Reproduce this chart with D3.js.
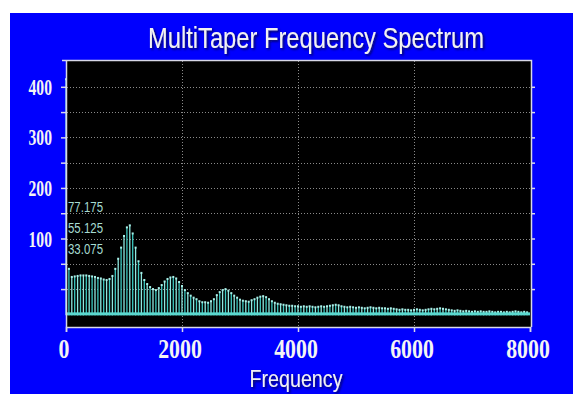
<!DOCTYPE html>
<html>
<head>
<meta charset="utf-8">
<script src="https://cdn.jsdelivr.net/npm/d3@7"></script>
<style>
  body { margin: 0; background: #fff; }
  svg { display: block; }
</style>
</head>
<body>
<script>
// spectrum bins, 50 Hz apart, starting at 0 Hz
var binWidth = 50;
var lowBand = [415, 40, 24, 25, 26, 27, 27, 27, 26, 25, 24, 22, 21, 19, 18, 20,
  26, 40, 60, 82, 105, 122, 126, 110, 82, 55, 32, 18, 10, 4, 0, -2,
  2, 8, 15, 20, 23, 24, 21, 14, 6, -2, -8, -13, -17, -20, -24, -26];
var midBand = [-26, -27, -24, -20, -12, -6, -2, 0, -3, -8, -13, -17, -21, -23, -24, -25,
  -22, -20, -17, -15, -14, -16, -20, -24, -27, -29, -30, -31, -32, -33, -33, -34,
  -34, -35, -34, -35, -34, -35, -36, -35, -34, -35, -34, -33, -32, -31, -32, -34];
var highBand = [-35, -36, -35, -36, -37, -36, -37, -38, -37, -36, -37, -38, -37, -38, -38, -39,
  -38, -39, -40, -41, -40, -41, -41, -42, -41, -40, -41, -42, -41, -40, -39, -40,
  -39, -38, -39, -40, -41, -42, -43, -42, -43, -44, -43, -44, -45, -44, -45, -44,
  -45, -45, -44, -45, -46, -45, -45, -46, -45, -46, -45, -44, -45, -46, -45, -46];
var spectrum = lowBand.concat(midBand, highBand);

var yTickLabels = [100, 200, 300, 400];
var xTickLabels = [0, 2000, 4000, 6000, 8000];
var levelLabels = ['77.175', '55.125', '33.075'];

var W = 573, H = 394;
var svg = d3.select('body').append('svg').attr('width', W).attr('height', H);

// soft dark shadow for the white captions
svg.append('defs').append('filter').attr('id', 'shadow')
  .attr('x', '-10%').attr('y', '-30%').attr('width', '120%').attr('height', '160%')
  .append('feDropShadow')
  .attr('dx', 1.5).attr('dy', 1.5).attr('stdDeviation', 1)
  .attr('flood-color', '#101040').attr('flood-opacity', 0.9);

// white margin, blue panel
svg.append('rect').attr('x', 10).attr('y', 13).attr('width', W - 10).attr('height', H - 13).attr('fill', '#0000fe');

var x = d3.scaleLinear().domain([0, 8000]).range([66, 530]);
var y = d3.scaleLinear().domain([-75, 453]).range([327, 60]);
var base = -52;

svg.append('rect')
  .attr('x', 66).attr('y', 60)
  .attr('width', 465).attr('height', 267)
  .attr('fill', '#000');

// dotted grid
var gridVals = d3.range(0, 401, 50);
svg.append('g').selectAll('line').data(gridVals).enter().append('line')
  .attr('x1', 67).attr('x2', 530)
  .attr('y1', function (d) { return Math.round(y(d)) + 0.5; })
  .attr('y2', function (d) { return Math.round(y(d)) + 0.5; })
  .attr('stroke', '#8a8a8a').attr('stroke-width', 1).attr('stroke-dasharray', '1,2');

svg.append('g').selectAll('line').data([2000, 4000, 6000]).enter().append('line')
  .attr('x1', function (d) { return Math.round(x(d)) + 0.5; })
  .attr('x2', function (d) { return Math.round(x(d)) + 0.5; })
  .attr('y1', 61).attr('y2', 327)
  .attr('stroke', '#8a8a8a').attr('stroke-width', 1).attr('stroke-dasharray', '1,2');

// spectrum bars
var bars = svg.append('g');
bars.selectAll('line').data(spectrum).enter().append('line')
  .attr('x1', function (d, i) { return x(i * binWidth); })
  .attr('x2', function (d, i) { return x(i * binWidth); })
  .attr('y1', y(base))
  .attr('y2', function (d) { return y(d); })
  .attr('stroke', function (d, i) { return i % 2 ? '#3cc9c0' : '#8ee8e0'; })
  .attr('stroke-width', 1.3);

bars.selectAll('rect').data(spectrum).enter().append('rect')
  .attr('x', function (d, i) { return x(i * binWidth) - 1; })
  .attr('y', function (d) { return y(d) - 1; })
  .attr('width', 2).attr('height', 2)
  .attr('fill', '#a8f2ea');

// baseline band
svg.append('rect')
  .attr('x', 66).attr('y', y(base) - 3)
  .attr('width', 464).attr('height', 3)
  .attr('fill', '#5ad8cf');

// frame and axes
var frame = '#d8d8e8';
svg.append('path')
  .attr('d', 'M62,60.5H531.5V327 M66.5,60V327')
  .attr('fill', 'none').attr('stroke', frame).attr('stroke-width', 1.5);

var yAxisL = d3.axisLeft(y).tickValues(gridVals).tickSize(5).tickFormat('');
svg.append('g').attr('transform', 'translate(66,0)').call(yAxisL)
  .call(function (g) { g.select('.domain').remove(); })
  .selectAll('line').attr('stroke', frame).attr('stroke-width', 1.5);

var yAxisR = d3.axisRight(y).tickValues(gridVals).tickSize(4).tickFormat('');
svg.append('g').attr('transform', 'translate(531,0)').call(yAxisR)
  .call(function (g) { g.select('.domain').remove(); })
  .selectAll('line').attr('stroke', frame).attr('stroke-width', 1.5);

var xAxis = d3.axisBottom(x).tickValues(xTickLabels).tickSize(5).tickFormat('');
svg.append('g').attr('transform', 'translate(0,327)').call(xAxis)
  .call(function (g) { g.select('.domain').attr('stroke', frame).attr('stroke-width', 1.5); })
  .selectAll('line').attr('stroke', frame).attr('stroke-width', 1.5);

// tick labels, condensed bold serif
svg.append('g').selectAll('text').data(yTickLabels).enter().append('text')
  .attr('transform', function (d) { return 'translate(52,' + (y(d) + 8) + ') scale(0.68,1)'; })
  .attr('text-anchor', 'end')
  .attr('font-family', 'Liberation Serif, Times New Roman, serif')
  .attr('font-weight', 'bold').attr('font-size', 23)
  .attr('fill', '#f4f4f4')
  .text(function (d) { return d; });

svg.append('g').selectAll('text').data(xTickLabels).enter().append('text')
  .attr('transform', function (d) { return 'translate(' + (x(d) - 2) + ',358) scale(0.78,1)'; })
  .attr('text-anchor', 'middle')
  .attr('font-family', 'Liberation Serif, Times New Roman, serif')
  .attr('font-weight', 'bold').attr('font-size', 28)
  .attr('fill', '#f4f4f4')
  .text(function (d) { return d; });

// level readouts
svg.append('g').selectAll('text').data(levelLabels).enter().append('text')
  .attr('x', 68)
  .attr('y', function (d, i) { return 212 + i * 21; })
  .attr('font-family', 'Liberation Sans Narrow, Arial Narrow, sans-serif')
  .attr('font-size', 14)
  .attr('textLength', 35).attr('lengthAdjust', 'spacingAndGlyphs')
  .attr('fill', '#a6dcd2')
  .text(function (d) { return d; });

// captions
function caption(txt, cx, cy, size, len) {
  svg.append('text')
    .attr('x', cx).attr('y', cy)
    .attr('text-anchor', 'middle')
    .attr('font-family', 'Liberation Sans Narrow, Arial Narrow, sans-serif')
    .attr('font-size', size)
    .attr('textLength', len).attr('lengthAdjust', 'spacingAndGlyphs')
    .attr('fill', '#f2f2f2')
    .attr('filter', 'url(#shadow)')
    .text(txt);
}
caption('MultiTaper Frequency Spectrum', 316, 48, 30, 336);
caption('Frequency', 296, 387, 24, 93);
</script>
</body>
</html>
